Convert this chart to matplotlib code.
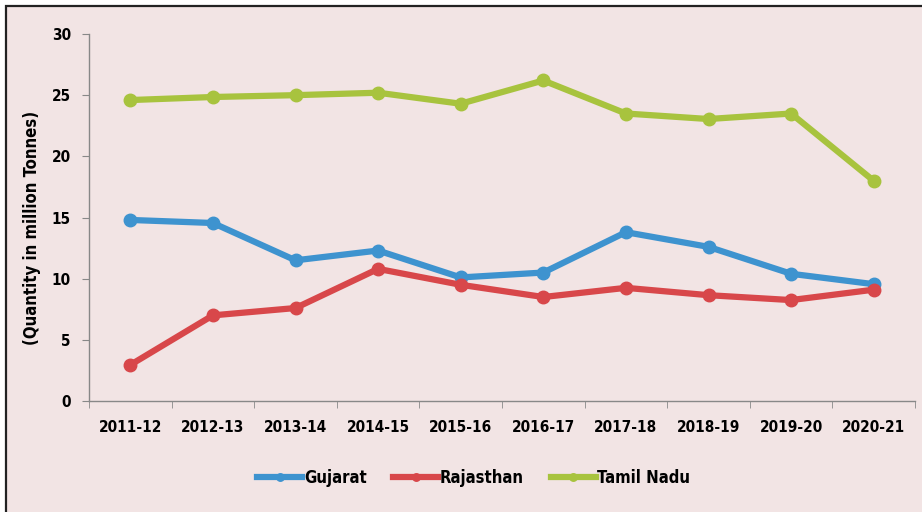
import matplotlib
matplotlib.use("Agg")
import matplotlib.pyplot as plt
from matplotlib.patches import Rectangle

years = ["2011-12", "2012-13", "2013-14", "2014-15", "2015-16",
         "2016-17", "2017-18", "2018-19", "2019-20", "2020-21"]
gujarat = [14.8, 14.55, 11.5, 12.3, 10.1, 10.5, 13.8, 12.6, 10.4, 9.55]
rajasthan = [2.95, 7.0, 7.6, 10.8, 9.5, 8.5, 9.25, 8.65, 8.25, 9.1]
tamil_nadu = [24.6, 24.85, 25.0, 25.2, 24.3, 26.2, 23.5, 23.05, 23.5, 18.0]
yticks = [0, 5, 10, 15, 20, 25, 30]

plt.rcParams['font.family'] = ['DejaVu Sans']
plt.rcParams['font.stretch'] = 'condensed'

bg = "#f2e4e4"
fig = plt.figure(figsize=(9.22, 5.12), dpi=100, facecolor="white")
fig.patches.append(Rectangle((6/922, -10/512), 930/922, 516/512, transform=fig.transFigure,
                             facecolor=bg, edgecolor="#222222", linewidth=1.6, zorder=-1))
ax = fig.add_axes([89/922, 111/512, 826/922, 367/512])
ax.set_facecolor(bg)
ax.patch.set_alpha(0)

x = list(range(len(years)))
series = [("Gujarat", gujarat, "#3e93cf"),
          ("Rajasthan", rajasthan, "#d8474a"),
          ("Tamil Nadu", tamil_nadu, "#a8c33e")]
for name, vals, c in series:
    ax.plot(x, vals, color=c, lw=4.5, marker="o", ms=9, label=name, solid_joinstyle="round")

tf = dict(fontsize=11, fontweight="bold", fontstretch="condensed")
ax.set_xlim(-0.5, len(years) - 0.5)
ax.set_ylim(0, 30)
ax.set_yticks(yticks)
ax.set_yticklabels([str(t) for t in yticks], **tf)
ax.set_xticks(x)
ax.set_xticklabels(years, **tf)
ax.tick_params(axis="x", length=0, pad=14)
ax.set_xticks([i - 0.5 for i in range(len(years) + 1)], minor=True)
ax.tick_params(axis="x", which="minor", length=5, color="#888888")
ax.tick_params(axis="y", length=5, color="#888888", pad=8)
for s in ["top", "right"]:
    ax.spines[s].set_visible(False)
for s in ["left", "bottom"]:
    ax.spines[s].set_color("#888888")
    ax.spines[s].set_linewidth(1.0)
ax.set_ylabel("(Quantity in million Tonnes)", fontsize=12, fontweight="bold",
              fontstretch="condensed")
ax.yaxis.set_label_coords(-0.058, 0.471)

leg = ax.legend(loc="center", bbox_to_anchor=(0.466, -0.21), ncol=3, frameon=False,
                prop=dict(size=12, weight="bold", stretch="condensed"),
                handlelength=2.7, columnspacing=1.6, handletextpad=0.1,
                markerscale=0.6)

fig.savefig("out.png", dpi=100, facecolor="white")
